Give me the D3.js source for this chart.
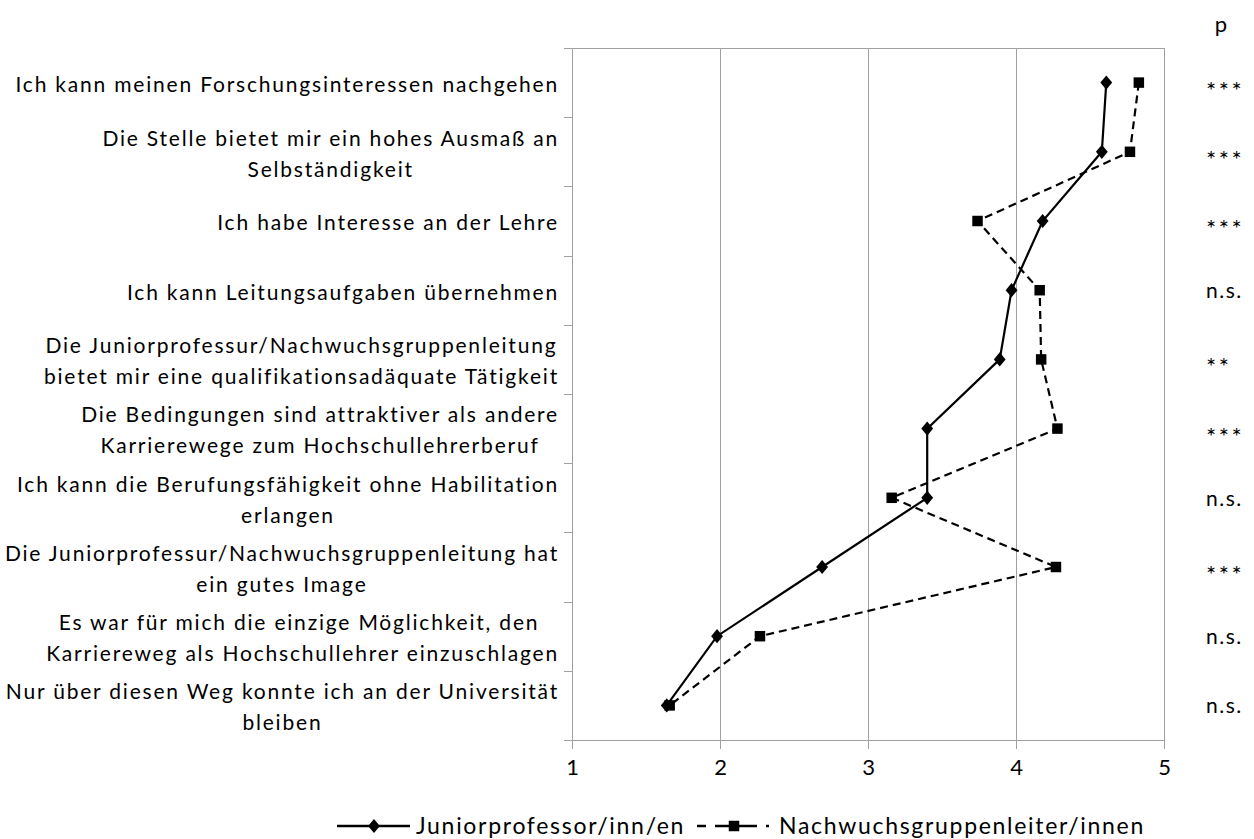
<!DOCTYPE html>
<html>
<head>
<meta charset="utf-8">
<script src="https://cdn.jsdelivr.net/npm/d3@7"></script>
<style>
  html, body { margin: 0; padding: 0; background: #fff; }
  svg { display: block; }
  text { font-family: Lato, "Open Sans", sans-serif; fill: #000; }
</style>
</head>
<body>
<svg id="chart" width="1254" height="839"></svg>
<script>
// ---- data ----
const categories = [
  ["Ich kann meinen Forschungsinteressen nachgehen"],
  ["Die Stelle bietet mir ein hohes Ausmaß an", "Selbständigkeit"],
  ["Ich habe Interesse an der Lehre"],
  ["Ich kann Leitungsaufgaben übernehmen"],
  ["Die Juniorprofessur/Nachwuchsgruppenleitung", "bietet mir eine qualifikationsadäquate Tätigkeit"],
  ["Die Bedingungen sind attraktiver als andere", "Karrierewege zum Hochschullehrerberuf"],
  ["Ich kann die Berufungsfähigkeit ohne Habilitation", "erlangen"],
  ["Die Juniorprofessur/Nachwuchsgruppenleitung hat", "ein gutes Image"],
  ["Es war für mich die einzige Möglichkeit, den\u00a0", "Karriereweg als Hochschullehrer einzuschlagen"],
  ["Nur über diesen Weg konnte ich an der Universität", "bleiben"]
];
const juniorValues = [4.61, 4.58, 4.18, 3.97, 3.89, 3.40, 3.40, 2.69, 1.98, 1.64];
const nachwuchsValues = [4.83, 4.77, 3.74, 4.16, 4.17, 4.28, 3.16, 4.27, 2.27, 1.66];
const significance = ["***", "***", "***", "n.s.", "**", "***", "n.s.", "***", "n.s.", "n.s."];
const xTicks = [1, 2, 3, 4, 5];
const seriesNames = ["Juniorprofessor/inn/en", "Nachwuchsgruppenleiter/innen"];

// ---- layout ----
const svg = d3.select("#chart");
const pLeft = 572, pRight = 1164, pTop = 48, pBottom = 740;

const x = d3.scaleLinear().domain([1, 5]).range([pLeft, pRight]);
const idx = d3.range(categories.length);
const y = d3.scaleBand().domain(idx).range([pTop, pBottom]);
const yc = i => y(i) + y.bandwidth() / 2;

const grey = "#a0a0a0";

// gridlines (vertical)
svg.append("g").selectAll("line")
  .data(xTicks.slice(1))
  .join("line")
  .attr("x1", d => Math.round(x(d)) + 0.5).attr("x2", d => Math.round(x(d)) + 0.5)
  .attr("y1", pTop).attr("y2", pBottom)
  .attr("stroke", grey).attr("stroke-width", 1);

// top border
svg.append("line").attr("x1", pLeft).attr("x2", pRight).attr("y1", pTop + 0.5).attr("y2", pTop + 0.5)
  .attr("stroke", grey).attr("stroke-width", 1);

// x axis
const xAxis = svg.append("g")
  .attr("transform", `translate(0,${pBottom})`)
  .call(d3.axisBottom(x).tickValues(xTicks).tickFormat(d3.format("d")).tickSize(9).tickPadding(10));
xAxis.select(".domain").attr("stroke", grey).attr("d", `M${pLeft - 8},0.5H${pRight}`);
xAxis.selectAll(".tick line").attr("stroke", grey);
xAxis.selectAll(".tick text").style("font-size", "22px").style("font-family", "Lato, sans-serif").attr("fill", "#000");

// y axis (left) with category boundary ticks
const yAxisG = svg.append("g");
yAxisG.append("line").attr("x1", pLeft + 0.5).attr("x2", pLeft + 0.5).attr("y1", pTop).attr("y2", pBottom)
  .attr("stroke", grey);
yAxisG.selectAll("line.tk")
  .data(d3.range(categories.length + 1))
  .join("line").attr("class", "tk")
  .attr("x1", pLeft - 8).attr("x2", pLeft)
  .attr("y1", i => Math.round(pTop + i * y.bandwidth()) + 0.5)
  .attr("y2", i => Math.round(pTop + i * y.bandwidth()) + 0.5)
  .attr("stroke", grey);

// category labels
const lineH = 31;
const labelRight = 559;
categories.forEach((lines, i) => {
  const g = svg.append("g");
  const n = lines.length;
  const texts = lines.map((ln, k) => g.append("text")
    .attr("y", yc(i) + 2 + (k - (n - 1) / 2) * lineH)
    .attr("dy", "0.35em")
    .attr("text-anchor", "middle")
    .style("font-size", "21px")
    .style("letter-spacing", "1.8px")
    .style("white-space", "pre")
    .text(ln));
  const maxW = d3.max(texts, t => t.node().getComputedTextLength());
  texts.forEach(t => t.attr("x", labelRight - maxW / 2));
});

// significance column
svg.append("text").attr("x", 1221).attr("y", 24).attr("dy", "0.35em").attr("text-anchor", "middle")
  .style("font-size", "22px").text("p");
svg.append("g").selectAll("text")
  .data(significance)
  .join("text")
  .attr("x", 1206)
  .attr("y", (d, i) => d.includes("*") ? yc(i) + 16 : yc(i) + 8)
  .style("font-size", d => d.includes("*") ? "24px" : "21px")
  .style("letter-spacing", d => d.includes("*") ? "2.5px" : "1.5px")
  .text(d => d);

// lines
const lineGen = d3.line().x(d => x(d.v)).y(d => yc(d.i));
const jData = juniorValues.map((v, i) => ({ v, i }));
const nData = nachwuchsValues.map((v, i) => ({ v, i }));

svg.append("path").datum(nData).attr("d", lineGen)
  .attr("fill", "none").attr("stroke", "#000").attr("stroke-width", 2.2)
  .attr("stroke-dasharray", "8,5");
svg.append("path").datum(jData).attr("d", lineGen)
  .attr("fill", "none").attr("stroke", "#000").attr("stroke-width", 2.2);

const diamondType = {
  draw(ctx, size) {
    const w = Math.sqrt(size) * 0.5, h = Math.sqrt(size) * 0.6;
    ctx.moveTo(0, -h); ctx.lineTo(w, 0); ctx.lineTo(0, h); ctx.lineTo(-w, 0); ctx.closePath();
  }
};
const diamond = d3.symbol().type(diamondType).size(140);
const square = d3.symbol().type(d3.symbolSquare).size(110);

svg.append("g").selectAll("path")
  .data(nData).join("path")
  .attr("transform", d => `translate(${x(d.v)},${yc(d.i)})`)
  .attr("d", square).attr("fill", "#000");
svg.append("g").selectAll("path")
  .data(jData).join("path")
  .attr("transform", d => `translate(${x(d.v)},${yc(d.i)})`)
  .attr("d", diamond).attr("fill", "#000");

// legend
const ly = 826;
const lg = svg.append("g");
lg.append("line").attr("x1", 337).attr("x2", 410).attr("y1", ly).attr("y2", ly)
  .attr("stroke", "#000").attr("stroke-width", 2.4);
lg.append("path").attr("transform", `translate(374,${ly})`).attr("d", diamond).attr("fill", "#000");
lg.append("text").attr("x", 416).attr("y", ly).attr("dy", "0.35em")
  .style("font-size", "23px").style("letter-spacing", "1.7px").text(seriesNames[0]);
lg.append("line").attr("x1", 697).attr("x2", 769).attr("y1", ly).attr("y2", ly)
  .attr("stroke", "#000").attr("stroke-width", 2.4).attr("stroke-dasharray", "9,9,42,9,3");
lg.append("path").attr("transform", `translate(734,${ly})`).attr("d", square).attr("fill", "#000");
lg.append("text").attr("x", 779).attr("y", ly).attr("dy", "0.35em")
  .style("font-size", "23px").style("letter-spacing", "1.7px").text(seriesNames[1]);
</script>
</body>
</html>
